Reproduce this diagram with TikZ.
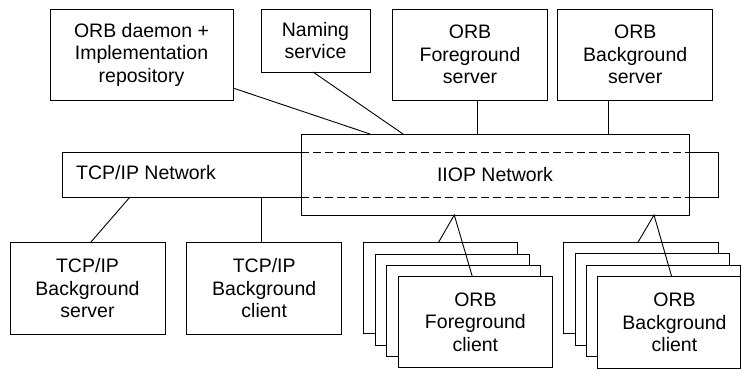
\documentclass[tikz,border=0pt]{standalone}
\usepackage{fontspec}
\setmainfont{Liberation Sans}
\usetikzlibrary{calc}
\begin{document}
\begin{tikzpicture}[x=1pt,y=-1pt,
  txt/.style={align=center,font=\fontsize{19.5}{22.5}\selectfont,inner sep=0pt},
  box/.style={txt,draw,line width=0.9pt,fill=white,outer sep=0pt},
  conn/.style={line width=0.9pt},
  dline/.style={line width=0.9pt,dash pattern=on 8pt off 4pt}]
\useasboundingbox (0,0) rectangle (741,370);
% top row
\node[box,minimum width=183pt,minimum height=91pt] (daemon) at (141.5,54.5) {ORB daemon +\\Implementation\\repository};
\node[box,minimum width=109pt,minimum height=63pt] (naming) at (315.5,40.5) {Naming\\service};
\node[box,minimum width=154.6pt,minimum height=91pt] (fgserv) at (470,54.5) {ORB\\Foreground\\server};
\node[box,minimum width=155pt,minimum height=91pt] (bgserv) at (635.2,54.5) {ORB\\Background\\server};
% networks
\node[box,minimum width=656pt,minimum height=45pt] (tcp) at (390,174.5) {};
\node[txt,anchor=west] (tcplabel) at (76,172.5) {TCP/IP Network};
\node[box,minimum width=388pt,minimum height=81pt] (iiop) at (495,174.5) {IIOP Network};
\draw[dline] (iiop.west |- tcp.north) -- (iiop.east |- tcp.north);
\draw[dline] (iiop.west |- tcp.south) -- (iiop.east |- tcp.south);
% bottom left
\node[box,minimum width=155pt,minimum height=92pt] (tcpserv) at (87.5,288.3) {TCP/IP\\Background\\server};
\node[box,minimum width=155pt,minimum height=92pt] (tcpcli) at (264.2,288.3) {TCP/IP\\Background\\client};
% foreground client stack
\node[box,minimum width=154pt,minimum height=91pt] (fgA) at (440.3,288.2) {};
\node[box,minimum width=154pt,minimum height=91pt] (fgB) at (452,299.5) {};
\node[box,minimum width=154pt,minimum height=91pt] (fgC) at (463.7,310.8) {};
\node[box,minimum width=154pt,minimum height=91pt] (fgD) at (475.4,322.1) {ORB\\Foreground\\client};
% background client stack
\node[box,minimum width=155pt,minimum height=90.6pt] (bgA) at (640.8,288) {};
\node[box,minimum width=154.3pt,minimum height=91.7pt] (bgB) at (652.2,299.2) {};
\node[box,minimum width=153.3pt,minimum height=91.7pt] (bgC) at (663.4,310.8) {};
\node[box,minimum width=143.5pt,minimum height=91.3pt] (bgD) at (668.8,322.3) {};
\node[txt] (bgDtext) at (674.5,322.3) {ORB\\Background\\client};
% connectors
\draw[conn] ($(daemon.south east)+(0,-12)$) -- ($(iiop.north west)+(69,0)$);
\draw[conn] ($(naming.south)+(-2.5,0)$) -- ($(iiop.north west)+(102,0)$);
\coordinate (f1) at ($(fgserv.south)+(7.7,0)$);
\draw[conn] (f1) -- (f1 |- iiop.north);
\coordinate (b1) at ($(bgserv.south)+(-26.5,0)$);
\draw[conn] (b1) -- (b1 |- iiop.north);
\draw[conn] ($(tcp.south west)+(68,0)$) -- ($(tcpserv.north)+(3.2,0)$);
\coordinate (c1) at ($(tcpcli.north)+(-3.2,0)$);
\draw[conn] (c1) -- (c1 |- tcp.south);
\coordinate (i1) at ($(iiop.south west)+(153.3,0)$);
\draw[conn] ($(fgA.north)+(-2,0)$) -- (i1) -- ($(fgD.north)+(-3.1,0)$);
\coordinate (i2) at ($(iiop.south west)+(353,0)$);
\draw[conn] ($(bgA.north)+(-3.1,0)$) -- (i2) -- ($(bgD.north)+(2.9,0)$);
\end{tikzpicture}
\end{document}
